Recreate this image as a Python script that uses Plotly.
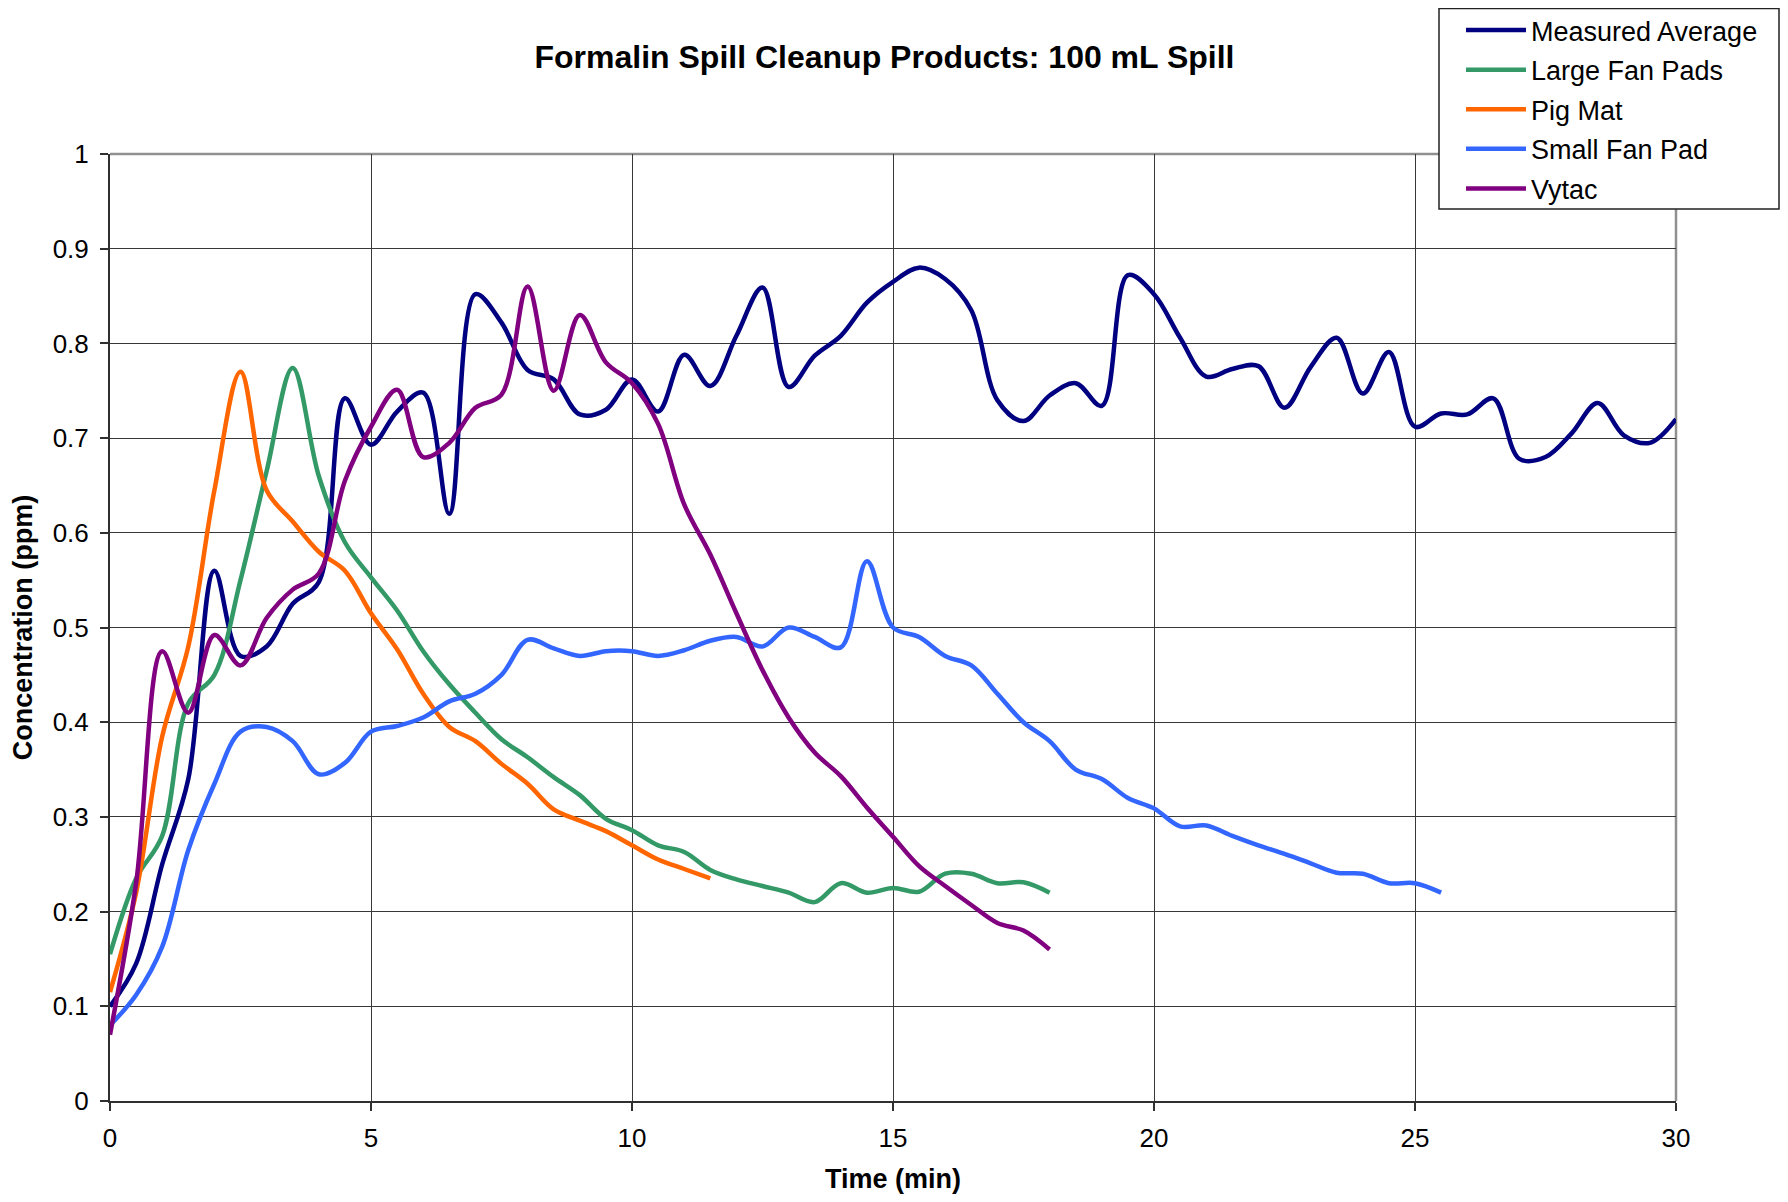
import plotly.graph_objects as go

# ---- data (time in minutes, concentration in ppm) ----
t_measured = [0, 0.5, 1, 1.5, 2, 2.5, 3, 3.5, 4, 4.5, 5, 5.5, 6, 6.5, 7, 7.5, 8, 8.5, 9, 9.5,
              10, 10.5, 11, 11.5, 12, 12.5, 13, 13.5, 14, 14.5, 15, 15.5, 16, 16.5, 17, 17.5,
              18, 18.5, 19, 19.5, 20, 20.5, 21, 21.5, 22, 22.5, 23, 23.5, 24, 24.5, 25, 25.5,
              26, 26.5, 27, 27.5, 28, 28.5, 29, 29.5, 30]
measured_average = [0.10, 0.145, 0.25, 0.34, 0.56, 0.47, 0.48, 0.525, 0.548, 0.742, 0.693, 0.728,
                    0.748, 0.62, 0.852, 0.822, 0.772, 0.762, 0.725, 0.73, 0.762, 0.728, 0.788,
                    0.755, 0.808, 0.859, 0.754, 0.787, 0.808, 0.843, 0.865, 0.88, 0.868, 0.835,
                    0.74, 0.718, 0.745, 0.758, 0.734, 0.872, 0.852, 0.806, 0.765, 0.773, 0.776,
                    0.732, 0.775, 0.806, 0.747, 0.791, 0.712, 0.726, 0.725, 0.742, 0.678, 0.68,
                    0.705, 0.737, 0.703, 0.695, 0.72]

t_large = [0, 0.5, 1, 1.5, 2, 2.5, 3, 3.5, 4, 4.5, 5, 5.5, 6, 6.5, 7, 7.5, 8, 8.5, 9, 9.5,
           10, 10.5, 11, 11.5, 12, 12.5, 13, 13.5, 14, 14.5, 15, 15.5, 16, 16.5, 17, 17.5, 18]
large_fan_pads = [0.155, 0.235, 0.28, 0.42, 0.45, 0.55, 0.665, 0.774, 0.66, 0.59, 0.553, 0.518,
                  0.475, 0.44, 0.41, 0.382, 0.363, 0.342, 0.323, 0.298, 0.286, 0.27, 0.263,
                  0.244, 0.234, 0.227, 0.22, 0.21, 0.23, 0.22, 0.225, 0.221, 0.24, 0.24, 0.23,
                  0.231, 0.22]

t_pig = [0, 0.5, 1, 1.5, 2, 2.5, 3, 3.5, 4, 4.5, 5, 5.5, 6, 6.5, 7, 7.5, 8, 8.5, 9, 9.5,
         10, 10.5, 11, 11.5]
pig_mat = [0.115, 0.22, 0.385, 0.48, 0.645, 0.77, 0.645, 0.612, 0.58, 0.56, 0.515, 0.477, 0.43,
           0.395, 0.38, 0.356, 0.335, 0.308, 0.296, 0.285, 0.27, 0.255, 0.245, 0.235]

t_small = [0, 0.5, 1, 1.5, 2, 2.5, 3, 3.5, 4, 4.5, 5, 5.5, 6, 6.5, 7, 7.5, 8, 8.5, 9, 9.5,
           10, 10.5, 11, 11.5, 12, 12.5, 13, 13.5, 14, 14.5, 15, 15.5, 16, 16.5, 17, 17.5,
           18, 18.5, 19, 19.5, 20, 20.5, 21, 21.5, 22, 22.5, 23, 23.5, 24, 24.5, 25, 25.5]
small_fan_pad = [0.08, 0.112, 0.163, 0.265, 0.335, 0.39, 0.395, 0.38, 0.345, 0.357, 0.39, 0.396,
                 0.405, 0.422, 0.43, 0.45, 0.487, 0.478, 0.47, 0.475, 0.475, 0.47, 0.476, 0.486,
                 0.49, 0.48, 0.5, 0.49, 0.479, 0.57, 0.5, 0.49, 0.47, 0.46, 0.43, 0.40, 0.38,
                 0.35, 0.34, 0.32, 0.309, 0.29, 0.291, 0.28, 0.27, 0.261, 0.251, 0.241, 0.24,
                 0.23, 0.23, 0.22]

t_vytac = [0, 0.5, 1, 1.5, 2, 2.5, 3, 3.5, 4, 4.5, 5, 5.5, 6, 6.5, 7, 7.5, 8, 8.5, 9, 9.5,
           10, 10.5, 11, 11.5, 12, 12.5, 13, 13.5, 14, 14.5, 15, 15.5, 16, 16.5, 17, 17.5, 18]
vytac = [0.07, 0.23, 0.475, 0.41, 0.492, 0.46, 0.51, 0.54, 0.557, 0.655, 0.712, 0.751, 0.68,
         0.695, 0.732, 0.746, 0.86, 0.75, 0.83, 0.78, 0.758, 0.715, 0.63, 0.577, 0.515, 0.455,
         0.405, 0.368, 0.343, 0.31, 0.279, 0.248, 0.227, 0.207, 0.188, 0.18, 0.16]

series = [
    ("Measured Average", t_measured, measured_average, "#000080"),
    ("Large Fan Pads", t_large, large_fan_pads, "#339966"),
    ("Pig Mat", t_pig, pig_mat, "#FF6600"),
    ("Small Fan Pad", t_small, small_fan_pad, "#3366FF"),
    ("Vytac", t_vytac, vytac, "#800080"),
]

# figure is placed 8px from the page corner (default body margin)
W, H = 1772, 1186
L, R, T, B = 102, 104, 146, 93
PW, PH = W - L - R, H - T - B
FONT = "Arial, Liberation Sans, Helvetica, sans-serif"


def px_to_paper_x(px):
    return (px - L) / PW


def px_to_paper_y(py):
    return (H - B - py) / PH


fig = go.Figure()
for name, x, y, color in series:
    fig.add_trace(go.Scatter(
        x=x, y=y, name=name, legendgroup=name, mode="lines",
        line=dict(color=color, width=4.5, shape="spline", smoothing=1.0),
    ))

fig.update_layout(
    width=W, height=H,
    margin=dict(l=L, r=R, t=T, b=B, autoexpand=False),
    paper_bgcolor="white", plot_bgcolor="white",
    font=dict(family=FONT, size=26, color="black"),
    title=dict(
        text="<b>Formalin Spill Cleanup Products: 100 mL Spill</b>",
        x=876.5 / W, xref="container", xanchor="center",
        y=1 - 48.7 / H, yref="container", yanchor="middle",
        font=dict(family=FONT, size=32, color="black"),
    ),
    legend=dict(
        x=px_to_paper_x(1453), xref="paper", xanchor="left",
        y=px_to_paper_y(-2), yref="paper", yanchor="top",
        bgcolor="rgba(0,0,0,0)", borderwidth=0,
        font=dict(family=FONT, size=27, color="black"),
        itemwidth=60, traceorder="grouped", tracegroupgap=1.5,
    ),
    showlegend=True,
)

fig.update_xaxes(
    range=[0, 30], dtick=5, tick0=0,
    showgrid=True, gridcolor="#383838", gridwidth=1,
    zeroline=False,
    showline=True, linecolor="#303030", linewidth=2,
    ticks="outside", ticklen=8, tickcolor="#303030", tickwidth=1.5,
    ticklabelstandoff=5,
    title=dict(text="<b>Time (min)</b>", standoff=28,
               font=dict(family=FONT, size=27, color="black")),
    automargin=False,
)
fig.update_yaxes(
    range=[0, 1], dtick=0.1, tick0=0,
    showgrid=True, gridcolor="#383838", gridwidth=1,
    zeroline=False,
    showline=True, linecolor="#303030", linewidth=2,
    ticks="outside", ticklen=8, tickcolor="#303030", tickwidth=1.5,
    ticklabelstandoff=6,
    title=dict(text="<b>Concentration (ppm)</b>", standoff=20,
               font=dict(family=FONT, size=27, color="black")),
    automargin=False,
)

# gray frame on top and right of the plot area
fig.add_shape(type="line", xref="paper", yref="paper", x0=0, x1=1, y0=1, y1=1,
              line=dict(color="#909090", width=2.5), layer="below")
fig.add_shape(type="line", xref="paper", yref="paper", x0=1, x1=1, y0=0, y1=1,
              line=dict(color="#909090", width=2.5), layer="below")

# legend box
fig.add_shape(type="rect", xref="paper", yref="paper",
              x0=px_to_paper_x(1431), x1=px_to_paper_x(1771),
              y0=px_to_paper_y(201), y1=px_to_paper_y(0.5),
              fillcolor="white", line=dict(color="#222222", width=1.5), layer="above")

fig.write_html("out.html")
